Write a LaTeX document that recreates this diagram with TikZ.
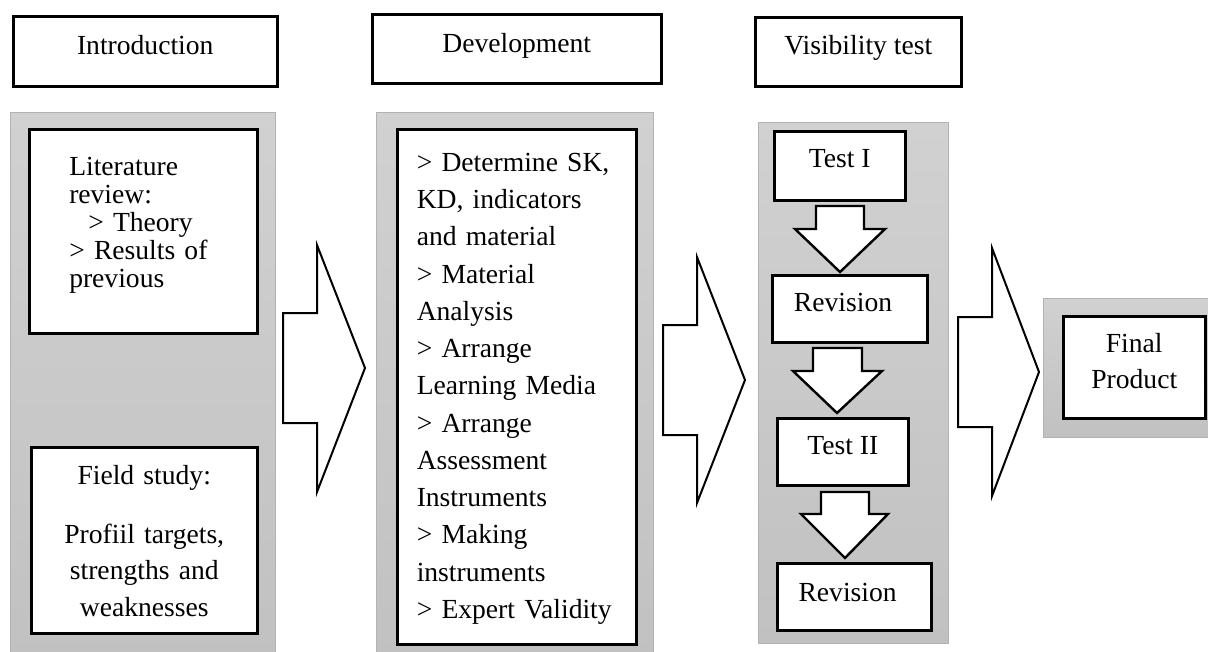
\documentclass[tikz,border=0pt]{standalone}
\usepackage{fontspec}
\setmainfont{Liberation Serif}
\usetikzlibrary{positioning}

\definecolor{panelTop}{RGB}{209,209,209}
\definecolor{panelBot}{RGB}{193,193,193}
\definecolor{panelEdge}{RGB}{178,178,178}

\tikzset{
  panel/.style={draw=panelEdge, line width=1pt, top color=panelTop, bottom color=panelBot},
  box/.style={draw=black, fill=white, line width=2.5pt, inner ysep=0pt, anchor=north west,
    font=\fontsize{27.6}{28}\selectfont},
  bigarrow/.style={draw=black, fill=white, line width=2pt, line join=miter},
  dnarrow/.style={draw=black, fill=white, line width=2.4pt, line join=miter},
}

\begin{document}
\begin{tikzpicture}[x=1pt, y=-1pt]
    \useasboundingbox (0,0) rectangle (1208,651);
    \clip (0,0) rectangle (1208,651);

    % grey panels
    \draw[panel] (10,112) rectangle (275,660);
    \draw[panel] (376,112) rectangle (653,660);
    \draw[panel] (758,122) rectangle (948,643);
    \draw[panel] (1043,298) rectangle (1220,437);

    % headers
    \node[box, minimum width=264pt, text height=38.3pt, text depth=31.7pt] (intro) at (12,15) {Introduction};
    \node[box, minimum width=289pt, text height=38.7pt, text depth=30.3pt] (devel) at (371,13) {Development};
    \node[box, minimum width=206pt, text height=37.3pt, text depth=31.7pt] (visib) at (754,16) {Visibility test};

    % introduction
    \node[box, text width=148pt, inner xsep=40pt, align=left, text height=46pt, text depth=158pt]
      (litreview) at (28,128) {Literature\\review:\\\hspace*{19pt}> Theory\\> Results of\\previous};
    \node[box, text width=200pt, inner xsep=13pt, align=center, text height=37pt, text depth=149pt,
      font=\fontsize{27.6}{36.5}\selectfont]
      (fieldstudy) at (30,446) {Field study:\\[22.5pt]Profiil targets,\\strengths and\\weaknesses};

    % development
    \node[box, text width=200pt, inner xsep=19.5pt, align=left, text height=42pt, text depth=473pt,
      font=\fontsize{27.6}{37.25}\selectfont]
      (devsteps) at (396,128) {> Determine SK,\\KD, indicators\\and material\\> Material\\Analysis\\> Arrange\\Learning Media\\> Arrange\\Assessment\\Instruments\\> Making\\instruments\\> Expert Validity};

    % visibility test
    \node[box, minimum width=131pt, text height=36.7pt, text depth=32.3pt] (test1) at (773,130) {Test I};
    \node[box, text width=111.6pt, inner xsep=21.7pt, align=left, text height=36pt, text depth=31pt] (rev1) at (771,274) {Revision};
    \node[box, minimum width=131pt, text height=36.3pt, text depth=30.7pt] (test2) at (776,417) {Test II};
    \node[box, text width=111.4pt, inner xsep=21.3pt, align=left, text height=38pt, text depth=29pt] (rev2) at (776,562) {Revision};

    % final
    \node[box, text width=120pt, inner xsep=11pt, align=center, text height=36.7pt, text depth=65.3pt,
      font=\fontsize{27.6}{35.7}\selectfont]
      (final) at (1062,315) {Final\\Product};

    % block arrows between the stages
    \foreach \xa/\ya/\yb/\xb/\yc/\yd/\xt/\yt in {283/313/423/317/245/492/365/368,
        663/325/435/697/257/503/745/380, 958/317/427/992/248/496/1039/372}
      \draw[bigarrow] (\xa,\ya) -- (\xb,\ya) -- (\xb,\yc) -- (\xt,\yt) -- (\xb,\yd) -- (\xb,\yb) -- (\xa,\yb) -- cycle;

    % down arrows inside the test panel
    \foreach \xa/\xb/\ya/\hy/\hl/\hr/\tx/\ty in {816/864/206/229/795/885/840/272,
        813/862/348/371/793/882/837/413, 821/869/492/514/801/888/845/558}
      \draw[dnarrow] (\xa,\ya) -- (\xb,\ya) -- (\xb,\hy) -- (\hr,\hy) -- (\tx,\ty) -- (\hl,\hy) -- (\xa,\hy) -- cycle;
\end{tikzpicture}
\end{document}
